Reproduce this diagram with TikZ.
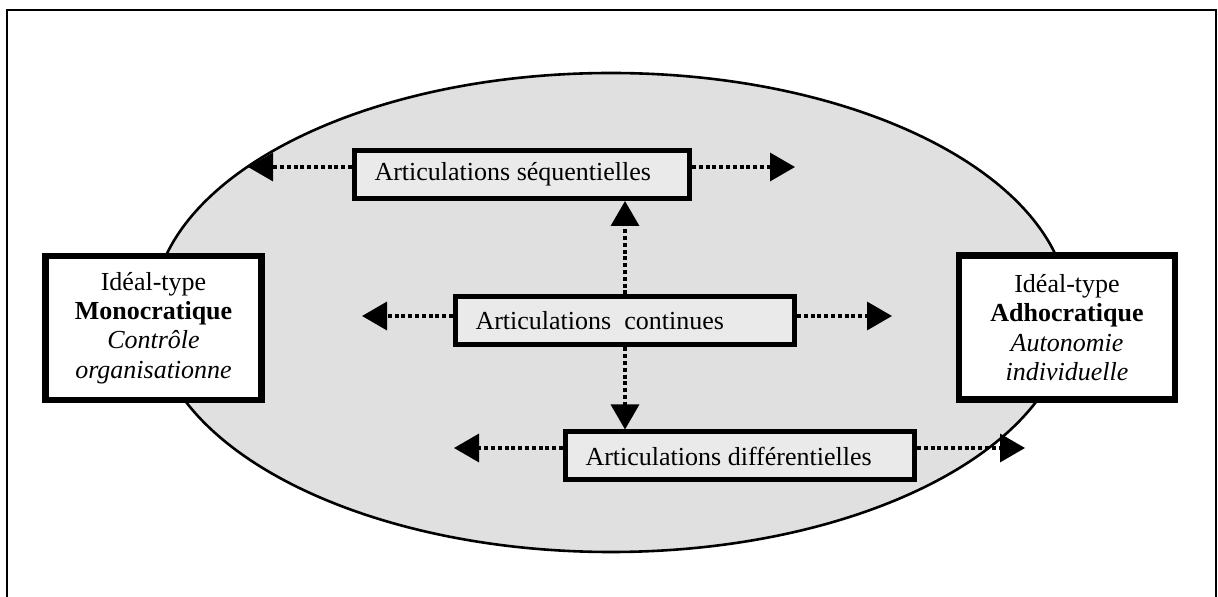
\documentclass[tikz,border=0pt]{standalone}
\usepackage{fontspec}
\setmainfont{Liberation Serif}
\usetikzlibrary{arrows.meta}
\definecolor{ellipseColor}{HTML}{E0E0E0}
\definecolor{artColor}{HTML}{EAEAEA}

\begin{document}
\begin{tikzpicture}[x=0.5pt, y=-0.5pt, font=\fontsize{13}{14.7}\selectfont,
	typeBox/.style={draw, line width=3.2pt, fill=white, minimum width=108pt,
		minimum height=72pt, align=center, inner sep=2pt},
	artBox/.style={draw, line width=2.5pt, fill=artColor, minimum height=24pt,
		align=flush left, inner xsep=10pt, inner ysep=2pt},
	flow/.style={line width=1.7pt, dash pattern=on 2pt off 1.4pt,
		-{Triangle[length=12.5pt, width=14pt]}}]
	
	\useasboundingbox (0,0) rectangle (1218,597);
	
	% --- 1. Outer frame ---
	\draw[line width=0.6pt] (7,597) -- (7,10) -- (1216,10) -- (1216,597);
	
	% --- 2. Ellipse ---
	\draw[line width=1.3pt, fill=ellipseColor] (611,312.5) ellipse [x radius=458, y radius=239.5];
	
	% --- 3. Ideal-type boxes ---
	\node[typeBox] (mono) at (153.5,328) {Idéal-type\\\textbf{Monocratique}\\\textit{Contrôle}\\\textit{organisationne}};
	\node[typeBox] (adho) at (1067,327.5) {Idéal-type\\\textbf{Adhocratique}\\\textit{Autonomie}\\\textit{individuelle}};
	
	% --- 4. Articulation boxes ---
	\node[artBox, text width=147.5pt] (seq) at (522,174.5) {Articulations séquentielles};
	\node[artBox, text width=149.5pt] (cont) at (625,321) {Articulations\ \ continues};
	\node[artBox, text width=154.5pt] (diff) at (740,456) {Articulations différentielles};
	
	% --- 5. Arrow tips ---
	\coordinate (seqLeft) at (248,167);
	\coordinate (seqRight) at (795,167);
	\coordinate (contLeft) at (362,316);
	\coordinate (contRight) at (892,316);
	\coordinate (diffLeft) at (454,448);
	\coordinate (diffRight) at (1025,448);
	
	% --- 6. Dotted arrows ---
	\draw[flow] (seq.west |- seqLeft) -- (seqLeft);
	\draw[flow] (seq.east |- seqRight) -- (seqRight);
	\draw[flow] (cont.west |- contLeft) -- (contLeft);
	\draw[flow] (cont.east |- contRight) -- (contRight);
	\draw[flow] (diff.west |- diffLeft) -- (diffLeft);
	\draw[flow] (diff.east |- diffRight) -- (diffRight);
	\draw[flow] (cont.north) -- (cont.north |- seq.south);
	\draw[flow] (cont.south) -- (cont.south |- diff.north);
	
\end{tikzpicture}
\end{document}
